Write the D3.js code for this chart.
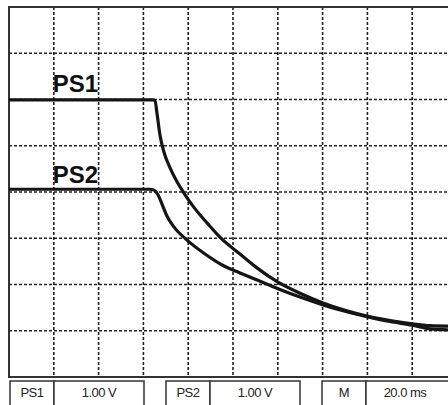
<!DOCTYPE html>
<meta charset="utf-8">
<style>
body { margin: 0; background: #fff; }
.grid line { stroke: #222; stroke-width: 1.6px; stroke-dasharray: 3,2; }
.frame { fill: none; stroke: #333; stroke-width: 2px; }
.trace { fill: none; stroke: #151515; stroke-width: 3.2px; stroke-linejoin: round; }
.label { font-family: "Liberation Sans", Arial, sans-serif; font-weight: bold; font-size: 24px; fill: #111; }
.box rect { fill: #fff; stroke: #333; stroke-width: 1.5px; }
.box text { font-family: "Liberation Sans", Arial, sans-serif; font-size: 13px; fill: #222; text-anchor: middle; letter-spacing: -0.5px; }
</style>
<body>
<script src="https://d3js.org/d3.v7.min.js"></script>
<script>
var width = 448,
    height = 405;

// time in ms, level in volts (1 V/div, 20 ms/div)
var ps1Time  = [0, 64.3, 65.2, 66.1, 67.4, 69.2, 71.9, 75.0, 78.6, 83.0, 88.8, 95.1, 103.1, 110.7, 120.1, 129.9, 140.2, 150.0, 160.3, 170.1, 179.9, 188.0, 196.0];
var ps1Volts = [5.99, 5.99, 5.97, 5.69, 5.23, 4.86, 4.52, 4.22, 3.94, 3.64, 3.31, 2.98, 2.66, 2.36, 2.05, 1.81, 1.60, 1.44, 1.31, 1.22, 1.15, 1.11, 1.10];
var ps2Time  = [0, 62.9, 64.7, 66.5, 68.3, 70.5, 73.7, 79.5, 87.5, 96.0, 103.1, 112.1, 120.1, 129.9, 140.2, 150.0, 160.3, 170.1, 179.9, 188.0, 196.0];
var ps2Volts = [4.06, 4.06, 4.04, 3.94, 3.74, 3.48, 3.24, 2.96, 2.66, 2.40, 2.25, 2.07, 1.91, 1.73, 1.56, 1.42, 1.30, 1.20, 1.12, 1.04, 1.02];

var traceNames = ["PS1", "PS2"];
var labelVolts = [6.35, 4.4];
var labelTime = 20;

var boxNames = ["PS1", "PS2", "M"];
var boxSettings = ["1.00 V", "1.00 V", "20.0 ms"];

var xTicks = d3.range(0, 201, 20);
var yTicks = d3.range(1, 8, 1);

var x = d3.scaleLinear().domain([0, 200]).range([9, 457]);
var y = d3.scaleLinear().domain([0, 8]).range([377, 7]);

var svg = d3.select("body").append("svg")
    .attr("width", width)
    .attr("height", height);

var grid = svg.append("g").attr("class", "grid");
grid.selectAll(".v")
    .data(xTicks.slice(1))
    .enter().append("line")
      .attr("x1", d => x(d)).attr("x2", d => x(d))
      .attr("y1", y(8)).attr("y2", y(0));
grid.selectAll(".h")
    .data(yTicks)
    .enter().append("line")
      .attr("x1", x(0)).attr("x2", width)
      .attr("y1", d => y(d)).attr("y2", d => y(d));

svg.append("path")
    .attr("class", "frame")
    .attr("d", "M" + width + "," + y(8) + "H" + x(0) + "V" + y(0) + "H" + width);

var line = d3.line()
    .x(d => x(d[0]))
    .y(d => y(d[1]))
    .curve(d3.curveMonotoneX);

var traces = [d3.zip(ps1Time, ps1Volts), d3.zip(ps2Time, ps2Volts)];
svg.selectAll(".trace")
    .data(traces)
    .enter().append("path")
      .attr("class", "trace")
      .attr("d", line);

svg.selectAll(".label")
    .data(traceNames)
    .enter().append("text")
      .attr("class", "label")
      .attr("x", x(labelTime) - 1)
      .attr("y", (d, i) => y(labelVolts[i]) + 9)
      .text(d => d);

// status bar
var boxStart = [10, 166, 322];
var box = svg.selectAll(".box")
    .data(boxNames)
    .enter().append("g")
      .attr("class", "box")
      .attr("transform", (d, i) => "translate(" + boxStart[i] + ",381)");
box.append("rect").attr("width", 44).attr("height", 30);
box.append("rect").attr("x", 44).attr("width", (d, i) => i == 2 ? 100 : 90).attr("height", 30);
box.append("text").attr("x", 22).attr("y", 16).text(d => d);
box.append("text").attr("x", (d, i) => 44 + (i == 2 ? 39 : 45)).attr("y", 16).text((d, i) => boxSettings[i]);
</script>
</body>
</html>
